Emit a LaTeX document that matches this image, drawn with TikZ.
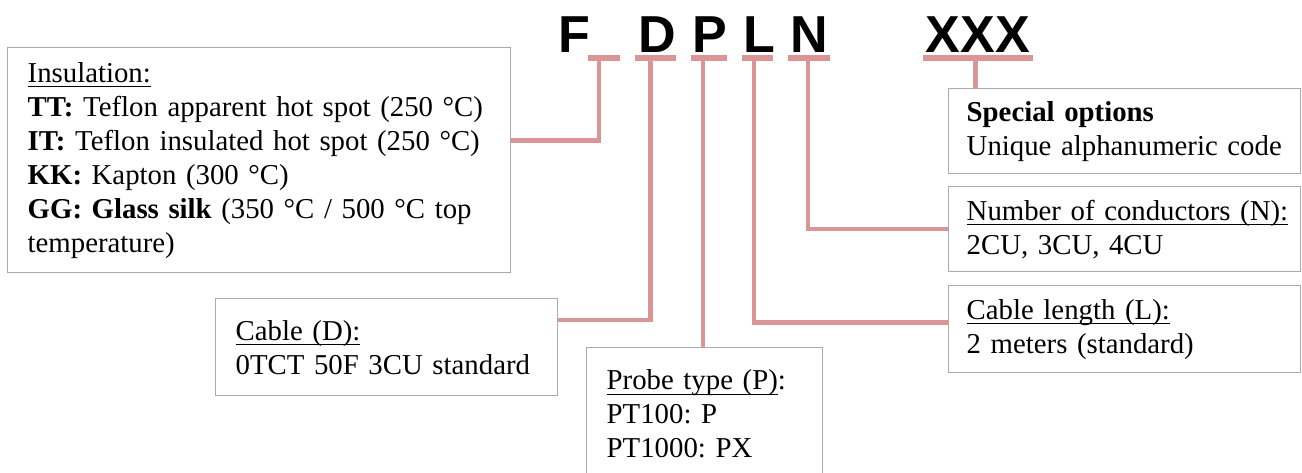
\documentclass[tikz,border=0pt]{standalone}
\usepackage{fontspec}
\setmainfont{Liberation Serif}
\newfontfamily\codesans{Liberation Sans}
\frenchspacing
\newcommand\boxul[1]{\setbox0\hbox{#1}\rlap{\raisebox{-2.6pt}{\rule{\wd0}{0.8pt}}}\box0}
\usetikzlibrary{calc}
\definecolor{linkpink}{HTML}{D99694}
\definecolor{boxgray}{HTML}{ABABAB}
\tikzset{
  infobox/.style={rectangle, draw=boxgray, line width=0.7pt, anchor=north west, align=left, inner xsep=10pt, inner ysep=4pt, font=\fontsize{14.4}{17}\selectfont},
  codeletter/.style={anchor=base, inner sep=0pt, font=\codesans\bfseries\fontsize{26}{30}\selectfont},
  codebar/.style={rectangle, fill=linkpink, inner sep=0pt, minimum height=2.9pt},
  link/.style={draw=linkpink, line width=2.1pt},
}

\begin{document}
\begin{tikzpicture}[x=0.5pt, y=-0.5pt]
  \useasboundingbox (0,0) rectangle (1302,472);

  % Order code letters
  \node[codeletter] (codeF) at (574,52) {F};
  \node[codeletter] (codeD) at (657,52) {D};
  \node[codeletter] (codeP) at (710,52) {P};
  \node[codeletter] (codeL) at (759,52) {L};
  \node[codeletter] (codeN) at (809,52) {N};
  \node[codeletter] (codeX) at (978,52) {XXX};

  % Bars under the code positions
  \node[codebar, minimum width=16pt] (barI) at (604,58) {};
  \node[codebar, minimum width=20.5pt] (barD) at (655.5,58) {};
  \node[codebar, minimum width=18pt] (barP) at (709,58) {};
  \node[codebar, minimum width=15.5pt] (barL) at (757.5,58) {};
  \node[codebar, minimum width=21pt] (barN) at (809,58) {};
  \node[codebar, minimum width=55pt] (barX) at (978,58) {};

  % Description boxes
  \node[infobox, text width=231.5pt, minimum height=112.5pt] (insul) at (7,47) {\boxul{Insulation:}\\
    \textbf{TT:} Teflon apparent hot spot (250~°C)\\
    \textbf{IT:} Teflon insulated hot spot (250~°C)\\
    \textbf{KK:} Kapton (300~°C)\\
    \textbf{GG: Glass silk} (350~°C / 500~°C top\\
    temperature)};
  \node[infobox, text width=151pt, minimum height=48.5pt] (cable) at (215,298) {\boxul{Cable (D):}\\
    0TCT 50F 3CU standard};
  \node[infobox, text width=98pt, minimum height=66.5pt] (probe) at (586,347) {\boxul{Probe type (P)}:\\
    PT100: P\\
    PT1000: PX};
  \node[infobox, text width=158pt, inner xsep=9pt, minimum height=42.5pt] (spec) at (948,88) {\textbf{Special options}\\
    Unique alphanumeric code};
  \node[infobox, text width=158pt, inner xsep=9pt, minimum height=42.5pt] (num) at (948,186) {\boxul{Number of conductors (N):}\\
    2CU, 3CU, 4CU};
  \node[infobox, text width=158pt, inner xsep=9pt, minimum height=43.5pt] (len) at (948,285) {\boxul{Cable length (L):}\\
    2 meters (standard)};

  % Connectors from code positions to boxes
  \draw[link] ([xshift=-2.5pt]barI.center) |- ($(insul.north east)!0.413!(insul.south east)$);
  \draw[link] ([xshift=-2.5pt]barD.center) |- ($(cable.north east)!0.227!(cable.south east)$);
  \draw[link] ([xshift=-3pt]barP.center) -- ([xshift=-3pt]barP.center |- probe.north);
  \draw[link] ([xshift=-1.75pt]barL.center) |- ($(len.north west)!0.425!(len.south west)$);
  \draw[link] ([xshift=-0.5pt]barN.center) |- (num.west);
  \draw[link] ([xshift=-1.25pt]barX.center) -- ([xshift=-1.25pt]barX.center |- spec.north);
\end{tikzpicture}
\end{document}
